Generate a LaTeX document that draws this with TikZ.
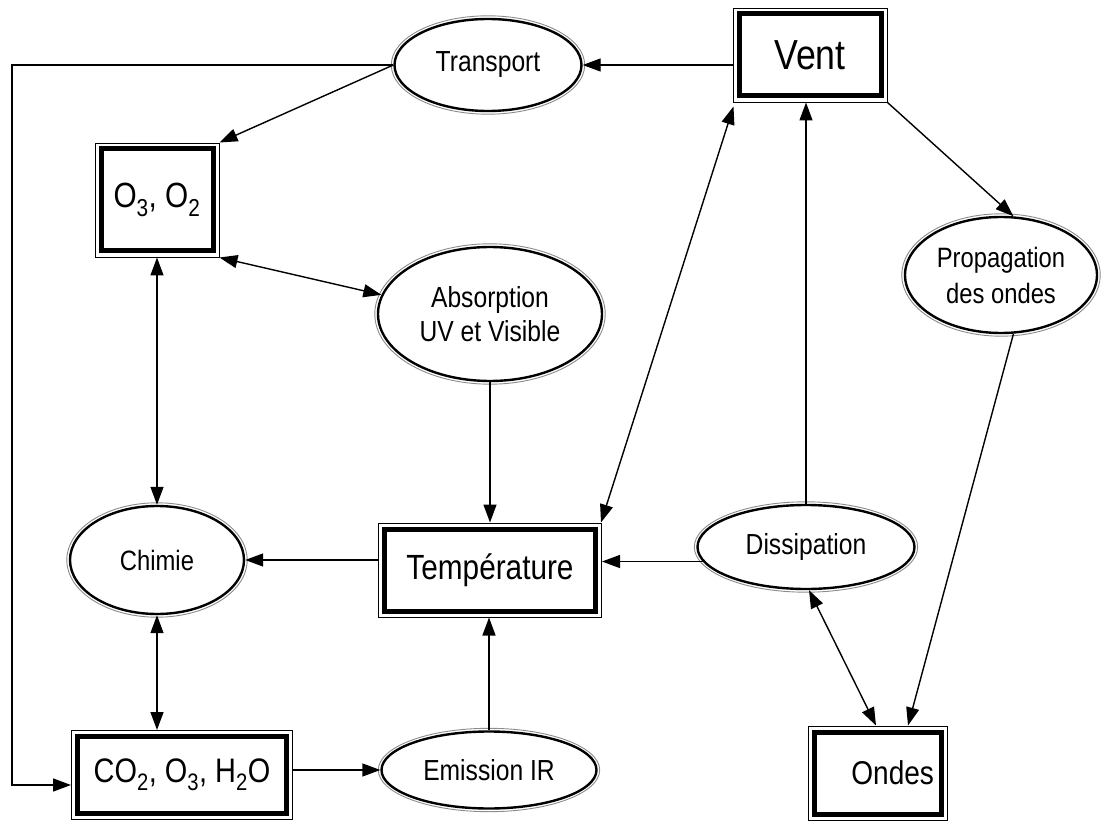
\documentclass[tikz,border=0pt]{standalone}
\usepackage{fontspec}
\setmainfont{Liberation Sans}[FakeStretch=0.85]
\usetikzlibrary{shapes.geometric,arrows.meta,calc}
\begin{document}
\begin{tikzpicture}[x=1pt,y=-1pt,
  mybox/.style={rectangle, draw, line width=5pt, inner sep=0pt},
  myell/.style={ellipse, draw, line width=2.4pt, inner sep=0pt},
  ring/.style={draw=black!45, line width=0.9pt},
  thinframe/.style={draw, line width=0.9pt},
  conn/.style={line width=1.4pt, -{Triangle[length=18pt,width=13pt]}},
  conntwo/.style={line width=1.4pt, {Triangle[length=18pt,width=13pt]}-{Triangle[length=18pt,width=13pt]}},
  lbl/.style={font=\fontsize{29}{34}\selectfont, align=center},
  big/.style={font=\fontsize{35}{40}\selectfont},
]
\fill[white] (0,0) rectangle (1104,821);
\useasboundingbox (0,0) rectangle (1104,821);

% boxes
\node[mybox, minimum width=142pt, minimum height=82pt, font=\fontsize{42}{46}\selectfont] (vent) at (810,55) {Vent};
\node[mybox, big, minimum width=112pt, minimum height=102pt] (o3) at (157,200) {O\textsubscript{3}, O\textsubscript{2}};
\node[mybox, big, minimum width=211pt, minimum height=82pt] (temp) at (490,570) {Température};
\node[mybox, minimum width=209pt, minimum height=77pt, font=\fontsize{34}{38}\selectfont] (co2) at (182,775) {CO\textsubscript{2}, O\textsubscript{3}, H\textsubscript{2}O};
\node[mybox, minimum width=127pt, minimum height=82pt, text width=112pt, align=right, font=\fontsize{33}{36}\selectfont] (ondes) at (878,773) {Ondes};

% ellipses
\node[myell, lbl, minimum width=187pt, minimum height=92pt] (trans) at (488,65) {Transport};
\node[myell, lbl, minimum width=224pt, minimum height=134pt] (absorp) at (490,314) {Absorption\\UV et Visible};
\node[myell, lbl, minimum width=174pt, minimum height=108pt, font=\fontsize{28}{32}\selectfont] (chim) at (157,560) {Chimie};
\node[myell, lbl, minimum width=215pt, minimum height=77pt] (emis) at (489,770) {Emission IR};
\node[myell, lbl, minimum width=217pt, minimum height=84pt] (diss) at (806,547) {Dissipation};
\node[myell, lbl, minimum width=192pt, minimum height=116pt, font=\fontsize{28}{36}\selectfont] (prop) at (1001,275) {Propagation\\des ondes};

% outer rings and frames
\foreach \nm in {trans,absorp,chim,emis,diss,prop}{
  \draw[ring] let \p1=(\nm.east), \p2=(\nm.north), \p3=(\nm.center) in
    (\p3) ellipse ({\x1-\x3+2pt} and {\y2-\y3+2pt});
}
\foreach \nm in {vent,o3,temp,co2,ondes}{
  \draw[thinframe] ([shift={(-3.5pt,-3.5pt)}]\nm.south west) rectangle ([shift={(3.5pt,3.5pt)}]\nm.north east);
}

\coordinate (lx) at (12,0);
\coordinate (lp) at ([shift={(-4pt,-10pt)}]co2.west);

% connectors
\draw[conn] ([xshift=-4pt]vent.west |- trans.east) -- (trans.east);
\draw[conn] (trans.west) -- ([shift={(4pt,4pt)}]o3.north east);
\draw[conn] (trans.west) -- (trans.west -| lx) -- (lx |- lp) -- (lp);
\draw[conntwo] ([shift={(4pt,-4pt)}]o3.south east) -- (absorp.170);
\draw[conntwo] ([yshift=-4pt]o3.south) -- (chim.north);
\draw[conntwo] (chim.south) -- ([yshift=4pt]co2.north -| chim.south);
\draw[conn] (absorp.south) -- ([yshift=4pt]temp.north -| absorp.south);
\draw[conn] ([xshift=-4pt]temp.west |- chim.east) -- (chim.east);
\draw[conn] (emis.north) -- ([yshift=-4pt]temp.south -| emis.north);
\draw[conn] ([xshift=4pt]co2.east |- emis.west) -- (emis.west);
\draw[conntwo] ([shift={(3pt,4pt)}]temp.north east) -- ([shift={(-3pt,-8pt)}]vent.south west);
\draw[conn] (diss.north) -- ([yshift=-4pt]vent.south -| diss.north);
\draw[conn] (diss.188) -- ([xshift=4pt]temp.east |- diss.188);
\draw[conn] ([shift={(4pt,-4pt)}]vent.south east) -- (prop.78);
\draw[conn] (prop.282) -- ([shift={(30pt,4pt)}]ondes.north);
\draw[conntwo] (diss.274) -- ([shift={(-2pt,4pt)}]ondes.north);
\end{tikzpicture}
\end{document}
